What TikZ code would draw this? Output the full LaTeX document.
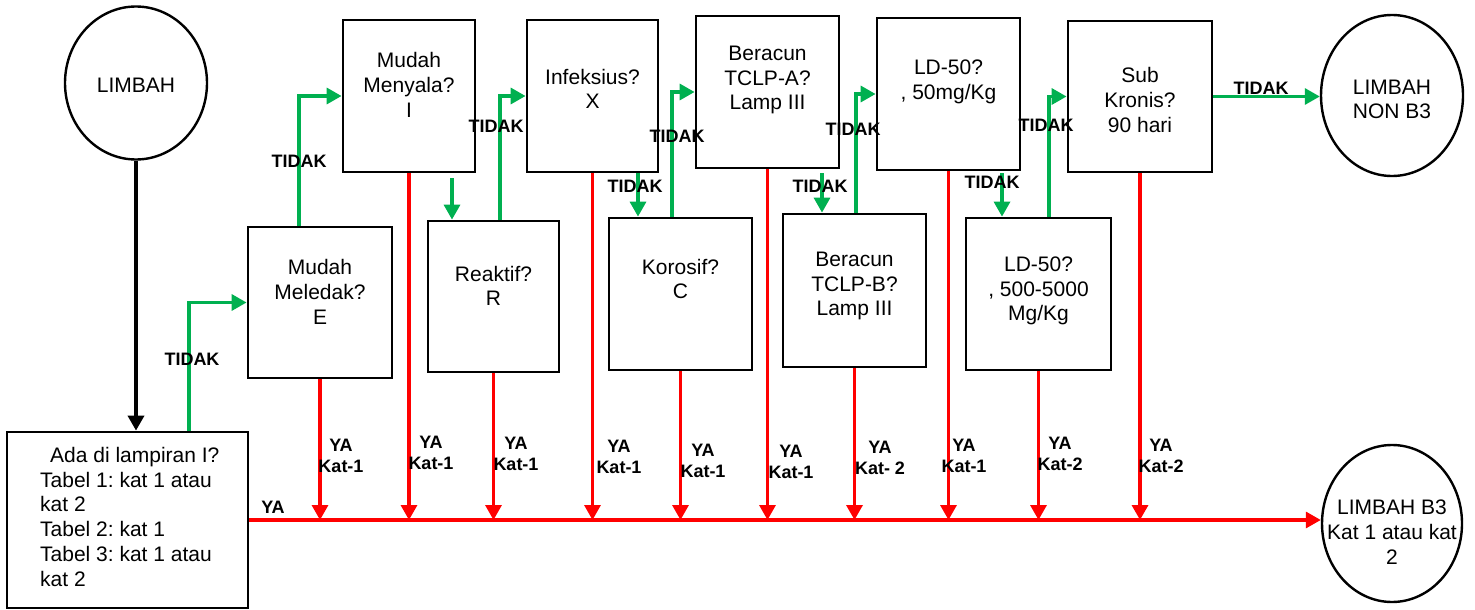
\documentclass[tikz,border=0pt]{standalone}
\usepackage{fontspec}
\setmainfont{Liberation Sans}
\usetikzlibrary{shapes.geometric,arrows.meta}
\definecolor{gr}{HTML}{00B050}
\definecolor{rd}{HTML}{FF0000}
\frenchspacing
\tikzset{
  box/.style={draw=black, line width=2.8pt, rectangle, inner sep=0pt, fill=white},
  circ/.style={draw=black, ellipse, line width=2.4pt, inner sep=0pt},
  txt/.style={font=\fontsize{21}{24.7}\selectfont, align=center, inner sep=0pt},
  lbl/.style={font=\fontsize{18}{21}\selectfont\bfseries, align=center, inner sep=0pt},
  garr/.style={draw=gr, line width=3.3pt, -{Triangle[length=15pt,width=16pt]}},
  rarr/.style={draw=rd, line width=3.3pt, -{Triangle[length=15pt,width=16pt]}},
  barr/.style={draw=black, line width=3.5pt, -{Triangle[length=15pt,width=16pt]}},
}
\begin{document}
\begin{tikzpicture}[x=1pt,y=-1pt]
\useasboundingbox (0,0) rectangle (1475,610);
% circles
\node[circ, minimum width=142pt, minimum height=153pt] (limbah) at (136,83) {};
\node[txt] (limbaht) at (136,85) {LIMBAH};
\node[circ, minimum width=142pt, minimum height=161pt] (nonb3) at (1392,95.5) {};
\node[txt] (nonb3t) at (1392,99.5) {LIMBAH\\NON B3};
\node[circ, minimum width=140pt, minimum height=157pt] (b3) at (1392,523.5) {};
\node[txt] (b3t) at (1392,532) {LIMBAH B3\\Kat 1 atau kat\\2};
% boxes
\node[box, minimum width=241pt, minimum height=176pt] (ada) at (127.5,520) {};
\node[txt, align=left, anchor=west] (adat) at (40,516.8) {\hspace*{10pt}Ada di lampiran I?\\Tabel 1: kat 1 atau\\kat 2\\Tabel 2: kat 1\\Tabel 3: kat 1 atau\\kat 2};
\node[box, minimum width=144pt, minimum height=151pt] (meledak) at (320,302.5) {};
\node[txt] (meledakt) at (320,292) {Mudah\\Meledak?\\E};
\node[box, minimum width=132pt, minimum height=152pt] (menyala) at (409,96) {};
\node[txt] (menyalat) at (409,85) {Mudah\\Menyala?\\I};
\node[box, minimum width=131pt, minimum height=151pt] (reaktif) at (493.5,296.5) {};
\node[txt] (reaktift) at (493.5,286) {Reaktif?\\R};
\node[box, minimum width=131pt, minimum height=152pt] (infeksius) at (592.5,96) {};
\node[txt] (infeksiust) at (592.5,89) {Infeksius?\\X};
\node[box, minimum width=143pt, minimum height=152pt] (korosif) at (680.5,294) {};
\node[txt] (korosift) at (680.5,279) {Korosif?\\C};
\node[box, minimum width=143pt, minimum height=152pt] (beracunA) at (767.5,92) {};
\node[txt] (beracunAt) at (767.5,80) {Beracun\\TCLP-A?\\Lamp III};
\node[box, minimum width=143pt, minimum height=153pt] (beracunB) at (854.5,290.5) {};
\node[txt] (beracunBt) at (854.5,286) {Beracun\\TCLP-B?\\Lamp III};
\node[box, minimum width=143pt, minimum height=152pt] (ld50) at (948.5,94) {};
\node[txt] (ld50t) at (948.5,82) {LD-50?\\, 50mg/Kg};
\node[box, minimum width=145pt, minimum height=152pt] (ld50b) at (1038.5,294) {};
\node[txt] (ld50bt) at (1038.5,291) {LD-50?\\, 500-5000\\Mg/Kg};
\node[box, minimum width=144pt, minimum height=151pt] (sub) at (1140,96.5) {};
\node[txt] (subt) at (1140,100) {Sub\\Kronis?\\90 hari};
% black arrow
\draw[barr] (limbah.south) -- (limbah.south |- ada.north);
% green connectors
\draw[garr] ([xshift=61.5pt]ada.north) |- (meledak.west);
\draw[garr] ([xshift=-21pt]meledak.north) |- (menyala.west);
\draw[garr] ([xshift=43pt,yshift=-5pt]menyala.south) -- ([xshift=-41.5pt]reaktif.north);
\draw[garr] ([xshift=6.5pt]reaktif.north) |- (infeksius.west);
\draw[garr] ([xshift=45.5pt]infeksius.south) -- ([xshift=-42.5pt]korosif.north);
\draw[garr] ([xshift=-8.5pt]korosif.north) |- (beracunA.west);
\draw[garr] ([xshift=54.5pt,yshift=-4pt]beracunA.south) -- ([xshift=-32.5pt]beracunB.north);
\draw[garr] ([xshift=1.5pt]beracunB.north) |- (ld50.west);
\draw[garr] ([xshift=53.5pt,yshift=-2pt]ld50.south) -- ([xshift=-36.5pt]ld50b.north);
\draw[garr] ([xshift=10.5pt]ld50b.north) |- (sub.west);
\draw[garr] (sub.east) -- (sub.east -| nonb3.west);
% red connectors
\draw[rarr] (ada.east) -- (ada.east -| b3.west);
\foreach \b in {meledak,menyala,reaktif,infeksius,korosif,beracunA,beracunB,ld50,ld50b,sub}
  \draw[rarr] (\b.south) -- (\b.south |- ada.east);
% TIDAK labels
\node[lbl] (t1) at (192,359) {TIDAK};
\node[lbl] (t2) at (299,161) {TIDAK};
\node[lbl] (t3) at (496,126) {TIDAK};
\node[lbl] (t4) at (635,186) {TIDAK};
\node[lbl] (t5) at (677,136) {TIDAK};
\node[lbl] (t6) at (820,186) {TIDAK};
\node[lbl] (t7) at (853,129) {TIDAK};
\node[lbl] (t8) at (992,182) {TIDAK};
\node[lbl] (t9) at (1046,125) {TIDAK};
\node[lbl] (t10) at (1261,88) {TIDAK};
% YA labels
\node[lbl] (ya0) at (273,507) {YA};
\node[lbl] (ya1) at (341,455.5) {YA\\Kat-1};
\node[lbl] (ya2) at (431,452.5) {YA\\Kat-1};
\node[lbl] (ya3) at (516,454) {YA\\Kat-1};
\node[lbl] (ya4) at (619,456.5) {YA\\Kat-1};
\node[lbl] (ya5) at (703,461) {YA\\Kat-1};
\node[lbl] (ya6) at (791,462) {YA\\Kat-1};
\node[lbl] (ya7) at (880,457.5) {YA\\Kat- 2};
\node[lbl] (ya8) at (964,455.5) {YA\\Kat-1};
\node[lbl] (ya9) at (1060,453.5) {YA\\Kat-2};
\node[lbl] (ya10) at (1161,455.5) {YA\\Kat-2};
\end{tikzpicture}
\end{document}
